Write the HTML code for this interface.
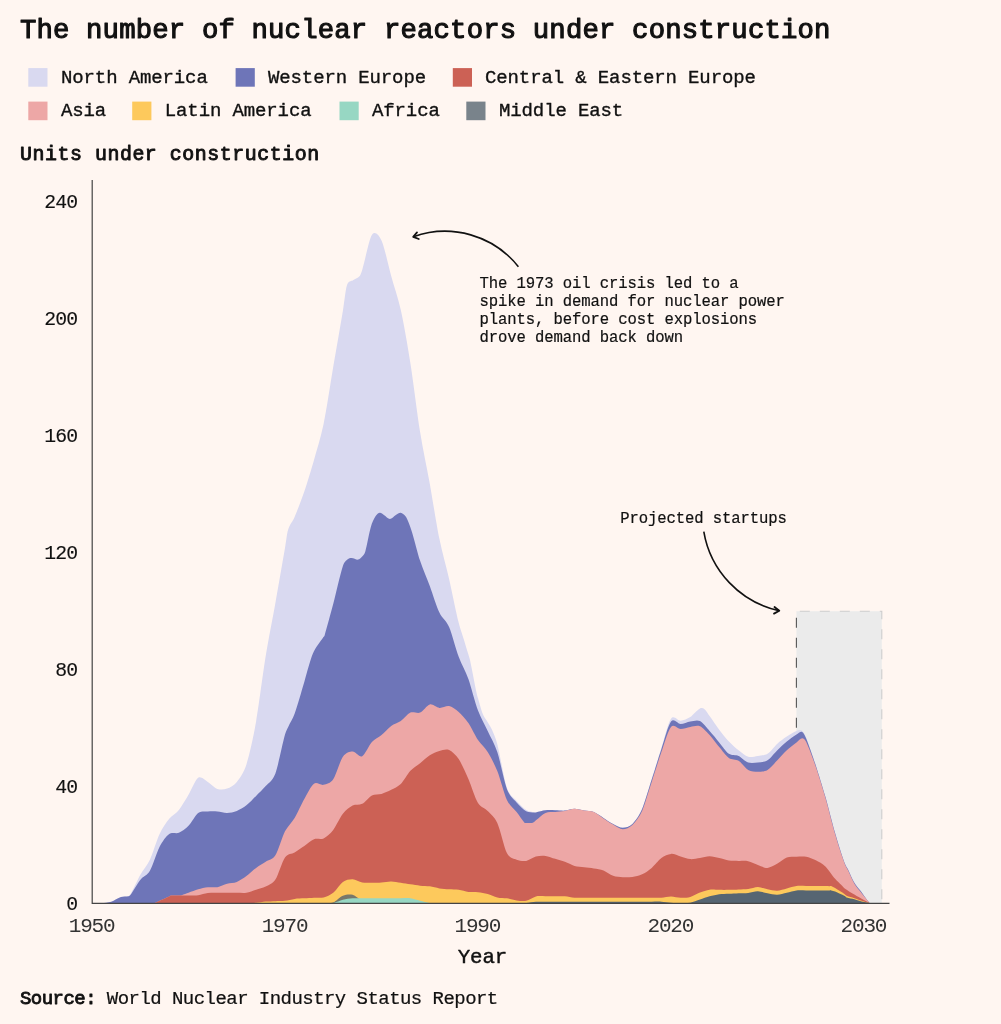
<!DOCTYPE html>
<html><head><meta charset="utf-8"><title>The number of nuclear reactors under construction</title>
<style>
html,body{margin:0;padding:0;background:#fff6f1;}
svg{display:block}
text{font-family:"Liberation Mono",monospace;fill:#111;stroke:#111;stroke-width:0.35px;stroke-linejoin:round}
.ti{font-size:27.3px;letter-spacing:0.165px;stroke-width:1.1px}
.lg{font-size:19px;letter-spacing:-0.12px}
.su{font-size:19.9px;letter-spacing:0.55px;stroke-width:0.9px}
.ax{font-size:19.8px;letter-spacing:-0.85px;stroke-width:0.12px}
.xx{font-size:21px;letter-spacing:-1.2px;stroke:none;fill:#333}
.an{font-size:15.6px;letter-spacing:-0.11px;stroke-width:0.2px}
.so{font-size:19px;letter-spacing:-0.545px;stroke-width:0.22px}
</style></head><body>
<svg width="1001" height="1024" viewBox="0 0 1001 1024">
<rect width="1001" height="1024" fill="#fff6f1"/>
<text x="19.9" y="38.4" class="ti">The number of nuclear reactors under construction</text>
<rect x="28.3" y="68.1" width="19.2" height="18.6" fill="#d9d9f0"/><text x="61" y="83.0" class="lg">North America</text>
<rect x="235.6" y="68.1" width="19.2" height="18.6" fill="#6e75b8"/><text x="268" y="83.0" class="lg">Western Europe</text>
<rect x="452.8" y="68.1" width="19.2" height="18.6" fill="#cc6155"/><text x="485" y="83.0" class="lg">Central &amp; Eastern Europe</text>
<rect x="28.3" y="101.6" width="19.2" height="18.6" fill="#eda7a6"/><text x="61" y="115.8" class="lg">Asia</text>
<rect x="132.2" y="101.6" width="19.2" height="18.6" fill="#fdc95c"/><text x="164.8" y="115.8" class="lg">Latin America</text>
<rect x="339.5" y="101.6" width="19.2" height="18.6" fill="#97d7c3"/><text x="372" y="115.8" class="lg">Africa</text>
<rect x="466.3" y="101.6" width="19.2" height="18.6" fill="#79838b"/><text x="499" y="115.8" class="lg">Middle East</text>

<text x="20" y="159.9" class="su">Units under construction</text>
<!-- projected box -->
<rect x="796.4" y="611.2" width="85.4" height="292.3" fill="#ebebeb"/>
<path d="M796.4,611.2H881.8V903" fill="none" stroke="#cdcdcd" stroke-width="1.1" stroke-dasharray="10,10" stroke-dashoffset="16.6"/>
<path d="M796.4,727.8V611.2" fill="none" stroke="#555" stroke-width="1.1" stroke-dasharray="10,10"/>
<!-- areas -->
<path d="M92.0,903.0C94.9,903.0 98.8,903.2 101.7,903.0C104.5,902.8 108.4,902.6 111.3,901.7C114.2,900.8 118.1,898.1 121.0,897.1C123.3,896.4 126.4,896.9 128.7,896.1C129.2,895.9 130.0,895.0 130.6,893.9C133.5,888.6 137.4,880.1 140.2,874.9C143.1,869.8 147.0,865.9 149.9,859.7C152.8,853.6 156.7,840.1 159.6,834.0C162.4,827.8 166.3,822.4 169.2,818.8C172.1,815.2 176.0,813.6 178.9,810.0C181.7,806.4 185.6,799.6 188.5,794.8C191.4,789.9 195.3,779.7 198.2,777.8C201.0,775.9 204.9,780.2 207.8,781.9C210.7,783.6 214.6,787.9 217.4,788.9C220.3,789.9 224.2,789.7 227.1,788.6C230.0,787.6 233.9,785.5 236.8,781.9C239.6,778.3 243.5,773.4 246.4,764.4C249.3,755.3 253.2,737.9 256.1,721.6C258.9,705.4 262.8,673.9 265.7,656.1C268.6,638.3 272.5,619.1 275.4,602.9C278.2,586.7 282.1,564.6 285.0,547.9C285.9,542.9 287.0,533.1 287.9,530.4C289.9,523.8 292.6,521.7 294.6,516.9C297.5,510.0 301.4,500.0 304.3,491.5C307.2,482.9 311.1,470.0 314.0,459.9C316.8,449.7 320.7,437.8 323.6,423.9C326.5,410.0 330.4,384.1 333.2,367.1C336.1,350.2 340.0,328.1 342.9,310.7C344.1,303.7 345.6,289.4 346.8,285.8C348.5,280.4 350.8,281.9 352.6,280.6C354.7,278.9 357.6,278.2 359.8,275.9C360.5,275.1 361.5,272.5 362.2,270.0C365.1,260.2 369.0,239.4 371.9,234.9C374.7,230.5 378.6,234.3 381.5,240.5C384.4,246.6 388.3,265.4 391.2,275.9C394.0,286.3 397.9,297.0 400.8,310.1C403.7,323.2 407.6,345.0 410.4,363.3C413.3,381.6 417.2,414.0 420.1,432.1C423.0,450.2 426.9,467.8 429.8,483.8C432.6,499.9 436.5,524.6 439.4,538.8C442.3,553.1 446.2,566.3 449.1,578.9C451.9,591.5 455.8,611.0 458.7,622.8C460.3,629.3 462.4,634.8 464.0,640.0C465.3,644.3 467.0,650.0 468.4,654.4C468.8,656.0 469.5,657.6 470.0,659.9C472.1,669.8 474.9,684.9 477.0,695.0C477.3,696.4 477.7,697.3 478.0,698.2C479.4,703.0 481.4,710.4 482.8,714.0C484.3,717.6 486.2,719.7 487.7,722.2C489.0,724.5 490.7,726.9 492.0,729.8C493.6,733.5 495.7,738.0 497.3,744.2C500.2,755.4 504.1,779.2 506.9,787.8C509.8,796.3 513.7,797.6 516.6,800.9C519.5,804.3 523.4,808.1 526.2,810.0C528.8,811.6 532.2,811.9 534.7,812.5C535.1,812.6 535.6,812.4 535.9,812.3C538.8,811.7 542.7,810.6 545.5,810.3C548.4,810.0 552.3,810.2 555.2,810.3C558.1,810.3 562.0,810.8 564.9,810.6C567.7,810.4 571.6,808.8 574.5,808.8C577.4,808.8 581.3,810.1 584.2,810.6C587.0,811.1 590.9,810.9 593.8,812.0C596.7,813.1 600.6,816.1 603.5,817.9C606.3,819.7 610.2,822.5 613.1,824.0C616.0,825.5 619.9,827.8 622.8,827.8C625.6,827.8 629.5,826.9 632.4,824.0C635.3,821.2 639.2,815.6 642.1,808.8C644.9,802.1 648.8,788.1 651.7,779.0C654.6,769.9 658.5,757.0 661.4,748.0C664.2,738.9 668.1,722.8 671.0,718.7C673.9,714.6 677.8,721.0 680.6,720.8C683.5,720.5 687.4,718.8 690.3,717.0C693.2,715.1 697.1,710.0 700.0,708.5C701.4,707.7 703.3,708.2 704.8,709.4C706.2,710.5 708.2,714.0 709.6,716.1C712.5,720.2 716.4,726.0 719.2,729.8C722.1,733.7 726.0,738.5 728.9,741.5C731.8,744.6 735.7,748.0 738.6,750.3C741.4,752.6 745.3,755.9 748.2,756.8C751.1,757.6 755.0,756.3 757.9,755.9C760.7,755.4 764.6,755.6 767.5,753.8C770.4,752.0 774.3,746.5 777.1,743.9C780.0,741.3 783.9,738.5 786.8,736.6C789.7,734.6 793.6,732.1 796.5,731.0C798.2,730.4 800.5,729.5 802.2,730.7C803.4,731.5 804.9,734.8 806.1,737.7C809.0,745.1 812.9,756.4 815.8,765.2C818.6,774.1 822.5,786.4 825.4,796.5C828.3,806.7 832.2,822.8 835.1,832.8C837.9,842.8 841.8,854.8 844.7,862.9C845.7,865.7 847.0,867.1 848.0,869.1C849.9,873.0 852.4,879.2 854.4,882.5C856.0,885.4 858.3,887.6 859.9,889.8C861.2,891.5 862.8,893.9 864.0,895.5C865.6,897.8 867.9,900.8 869.5,903.0L869.5,903.5L92.0,903.5Z" fill="#d9d9f0"/>
<path d="M92.0,903.0C94.9,903.0 98.8,903.2 101.7,903.0C104.5,902.8 108.4,902.6 111.3,901.7C114.2,900.8 118.1,898.1 121.0,897.1C123.3,896.4 126.4,896.8 128.7,896.3C129.2,896.1 130.0,895.6 130.6,894.8C133.5,890.7 137.4,883.5 140.2,879.9C143.1,876.3 147.0,875.8 149.9,870.8C152.8,865.9 156.7,852.4 159.6,846.8C162.4,841.3 166.3,836.1 169.2,834.0C172.1,831.9 176.0,834.0 178.9,832.8C181.7,831.6 185.6,828.8 188.5,825.8C191.4,822.8 195.3,815.1 198.2,812.9C201.0,810.8 204.9,811.7 207.8,811.4C210.7,811.2 214.6,811.2 217.4,811.4C220.3,811.7 224.2,813.0 227.1,812.9C230.0,812.8 233.9,812.0 236.8,810.9C239.6,809.7 243.5,807.5 246.4,805.3C249.3,803.1 253.2,798.8 256.1,795.9C258.9,793.0 262.8,789.4 265.7,786.0C268.6,782.6 272.5,781.1 275.4,773.4C278.2,765.7 282.1,745.0 285.0,734.5C286.0,731.1 287.2,729.0 288.2,726.9C290.1,722.7 292.7,719.2 294.6,713.8C297.5,705.7 301.4,691.4 304.3,681.9C306.8,673.5 310.2,660.0 312.7,654.1C316.0,646.4 320.3,642.0 323.6,636.8C323.9,636.4 324.3,636.3 324.6,635.4C327.2,626.5 330.6,613.9 333.2,604.1C336.1,593.1 340.0,575.0 342.9,566.0C344.3,561.6 346.3,560.7 347.7,559.3C348.9,558.2 350.4,557.8 351.6,557.9C353.6,557.9 356.2,559.9 358.1,559.6C359.4,559.4 361.0,557.8 362.2,556.4C363.1,555.3 364.4,554.6 365.3,551.4C366.9,545.9 369.1,533.0 370.7,527.4C372.1,522.5 374.1,518.6 375.5,516.3C376.8,514.3 378.5,513.0 379.8,512.8C381.0,512.6 382.7,514.1 383.9,514.9C385.7,515.9 388.1,518.9 389.9,518.9C391.7,518.9 394.1,515.9 395.9,514.9C397.4,514.0 399.3,512.6 400.8,512.8C402.2,513.0 404.1,514.6 405.5,516.3C406.4,517.4 407.6,520.0 408.5,522.2C409.6,524.8 411.0,528.8 412.1,532.4C414.5,540.4 417.7,553.5 420.1,560.8C423.0,569.6 426.9,578.2 429.8,585.9C432.6,593.7 436.5,606.4 439.4,612.5C442.3,618.7 446.2,620.3 449.1,626.9C451.9,633.5 455.8,648.9 458.7,656.7C461.6,664.5 465.5,670.9 468.4,678.9C471.2,687.0 475.1,702.7 478.0,710.5C480.9,718.3 484.8,724.8 487.7,731.0C490.5,737.2 494.4,743.4 497.3,752.1C500.2,760.8 504.1,781.4 506.9,788.9C509.8,796.5 513.7,799.0 516.6,802.4C519.5,805.7 523.4,809.5 526.2,811.2C528.8,812.6 532.2,812.3 534.7,812.6C535.1,812.7 535.6,812.5 535.9,812.5C538.8,811.8 542.7,810.6 545.5,810.3C548.4,809.9 552.3,810.2 555.2,810.3C558.1,810.3 562.0,810.8 564.9,810.6C567.7,810.4 571.6,808.8 574.5,808.8C577.4,808.8 581.3,810.1 584.2,810.6C587.0,811.1 590.9,810.9 593.8,812.0C596.7,813.1 600.6,816.1 603.5,817.9C606.3,819.7 610.2,822.5 613.1,824.0C616.0,825.5 619.9,827.8 622.8,827.8C625.6,827.8 629.5,826.8 632.4,824.0C635.3,821.2 639.2,815.8 642.1,809.1C644.9,802.4 648.8,788.6 651.7,779.6C654.6,770.6 658.5,757.9 661.4,749.1C664.2,740.4 668.1,725.3 671.0,721.5C673.9,717.7 677.8,724.0 680.6,724.0C683.5,724.0 687.4,721.9 690.3,721.5C693.2,721.1 697.1,719.6 700.0,721.1C702.8,722.5 706.7,727.8 709.6,731.0C712.5,734.2 716.4,739.0 719.2,742.4C722.1,745.8 726.0,751.8 728.9,753.8C731.8,755.8 735.7,754.6 738.6,755.9C741.4,757.2 745.3,761.5 748.2,762.5C751.1,763.4 755.0,762.8 757.9,762.5C760.7,762.1 764.6,762.1 767.5,760.3C770.4,758.5 774.3,753.3 777.1,750.5C780.0,747.7 783.9,743.9 786.8,741.5C789.7,739.1 793.6,736.3 796.5,734.5C798.2,733.4 800.5,731.2 802.2,731.9C803.4,732.3 804.9,735.4 806.1,738.3C809.0,745.5 812.9,756.8 815.8,765.5C818.6,774.3 822.5,786.7 825.4,796.8C828.3,807.0 832.2,823.1 835.1,833.1C837.9,843.1 841.8,855.1 844.7,863.2C845.7,866.0 847.0,867.4 848.0,869.4C849.9,873.2 852.4,879.5 854.4,882.8C856.0,885.7 858.3,887.9 859.9,890.1C861.2,891.8 862.8,894.0 864.0,895.7C865.6,897.9 867.9,900.8 869.5,903.0L869.5,903.5L92.0,903.5Z" fill="#6e75b8"/>
<path d="M92.0,903.0C94.9,903.0 98.8,903.0 101.7,903.0C104.5,903.0 108.4,903.0 111.3,903.0C114.2,903.0 118.1,903.0 121.0,903.0C123.8,903.0 127.7,903.0 130.6,903.0C133.5,903.0 137.4,903.0 140.2,903.0C143.1,903.0 147.0,903.0 149.9,903.0C151.3,903.0 153.3,903.3 154.7,903.0C156.2,902.7 158.1,901.5 159.6,900.8C162.4,899.5 166.3,897.7 169.2,896.4C169.8,896.1 170.6,895.7 171.1,895.6C173.4,895.4 176.5,895.6 178.9,895.5C179.7,895.5 180.9,895.5 181.7,895.2C183.8,894.6 186.5,893.5 188.5,892.8C191.4,891.7 195.3,890.1 198.2,889.3C201.0,888.4 204.9,887.5 207.8,887.2C210.7,886.9 214.6,887.7 217.4,887.2C220.3,886.7 224.2,884.5 227.1,883.7C230.0,882.9 233.9,883.1 236.8,881.9C239.6,880.8 243.5,878.2 246.4,876.1C249.3,874.0 253.2,870.0 256.1,867.9C258.9,865.8 262.8,863.6 265.7,861.8C268.6,859.9 272.5,859.9 275.4,855.3C278.2,850.8 282.1,837.0 285.0,831.3C287.9,825.7 291.8,822.8 294.6,817.9C297.5,813.0 301.4,804.0 304.3,798.9C307.2,793.7 311.1,785.8 314.0,783.7C316.8,781.6 320.7,785.5 323.6,784.8C326.5,784.2 330.4,783.5 333.2,779.3C336.1,775.1 340.0,760.9 342.9,756.8C345.8,752.6 349.7,751.6 352.6,751.5C355.4,751.4 359.3,757.6 362.2,756.2C365.1,754.8 369.0,745.3 371.9,742.1C374.7,739.0 378.6,737.5 381.5,735.1C384.4,732.7 388.3,728.1 391.2,726.0C394.0,723.9 397.9,723.1 400.8,721.1C403.7,719.0 407.6,713.9 410.4,712.6C413.3,711.3 417.2,713.8 420.1,712.6C423.0,711.4 426.9,705.1 429.8,704.4C432.6,703.7 436.5,707.6 439.4,707.9C442.3,708.2 446.2,705.5 449.1,706.1C451.9,706.8 455.8,709.5 458.7,712.0C461.6,714.5 465.5,718.9 468.4,723.1C471.2,727.3 475.1,735.7 478.0,740.1C480.9,744.4 484.8,747.4 487.7,752.1C490.5,756.7 494.4,763.9 497.3,771.1C500.2,778.3 504.1,793.9 506.9,800.0C509.8,806.2 513.7,808.3 516.6,812.0C519.0,815.1 522.1,820.0 524.5,822.7C525.0,823.3 525.7,822.9 526.2,822.9C528.2,822.9 530.9,823.3 532.9,822.7C533.8,822.5 535.0,820.9 535.9,820.2C538.8,818.0 542.7,814.1 545.5,812.9C548.4,811.7 552.3,812.3 555.2,812.0C558.1,811.7 562.0,811.3 564.9,810.9C567.7,810.4 571.6,808.9 574.5,808.8C577.4,808.8 581.3,810.1 584.2,810.6C587.0,811.1 590.9,810.8 593.8,812.0C596.7,813.2 600.6,816.6 603.5,818.5C606.3,820.4 610.2,823.0 613.1,824.6C616.0,826.2 619.9,829.2 622.8,829.3C625.6,829.3 629.5,827.7 632.4,824.9C635.3,822.1 639.2,817.3 642.1,810.9C644.9,804.4 648.8,790.7 651.7,781.9C654.6,773.1 658.5,760.3 661.4,752.1C664.2,743.8 668.1,730.4 671.0,726.9C673.9,723.4 677.8,729.0 680.6,729.0C683.5,729.0 687.4,727.3 690.3,726.9C693.2,726.5 697.1,725.1 700.0,726.3C702.8,727.6 706.7,732.0 709.6,735.1C712.5,738.2 716.4,743.7 719.2,747.1C722.1,750.5 726.0,755.9 728.9,757.9C731.8,760.0 735.7,759.0 738.6,760.8C741.4,762.6 745.3,768.3 748.2,769.9C751.1,771.5 755.0,771.7 757.9,771.7C760.7,771.7 764.6,771.6 767.5,769.9C770.4,768.2 774.3,763.5 777.1,760.6C780.0,757.6 783.9,753.0 786.8,750.3C789.7,747.6 793.6,744.7 796.5,742.4C798.2,741.1 800.5,738.4 802.2,738.3C803.4,738.3 804.9,739.4 806.1,741.8C809.0,747.9 812.9,758.3 815.8,766.7C818.6,775.1 822.5,787.6 825.4,797.7C828.3,807.8 832.2,824.1 835.1,834.0C837.9,843.9 841.8,855.7 844.7,863.8C845.7,866.6 847.0,868.2 848.0,870.2C849.9,874.2 852.4,880.4 854.4,883.7C856.0,886.6 858.3,888.8 859.9,891.0C861.2,892.6 862.8,894.7 864.0,896.3C865.6,898.3 867.9,901.0 869.5,903.0L869.5,903.5L92.0,903.5Z" fill="#eda7a6"/>
<path d="M92.0,903.0C94.9,903.0 98.8,903.0 101.7,903.0C104.5,903.0 108.4,903.0 111.3,903.0C114.2,903.0 118.1,903.0 121.0,903.0C123.8,903.0 127.7,903.0 130.6,903.0C133.5,903.0 137.4,903.0 140.2,903.0C143.1,903.0 147.0,903.0 149.9,903.0C151.3,903.0 153.3,903.3 154.7,903.0C156.2,902.7 158.1,901.5 159.6,900.8C162.4,899.5 166.3,897.7 169.2,896.4C169.8,896.1 170.6,895.7 171.1,895.6C173.4,895.4 176.5,895.6 178.9,895.5C181.7,895.5 185.6,895.4 188.5,895.4C191.4,895.3 195.3,895.6 198.2,895.2C201.0,894.9 204.9,893.4 207.8,893.1C210.7,892.7 214.6,892.8 217.4,892.8C220.3,892.7 224.2,892.8 227.1,892.8C230.0,892.8 233.9,892.8 236.8,892.8C239.6,892.8 243.5,893.2 246.4,892.8C249.3,892.3 253.2,890.8 256.1,889.8C258.9,888.9 262.8,888.2 265.7,886.6C268.6,885.1 272.5,884.0 275.4,879.6C278.2,875.2 282.1,861.5 285.0,857.4C287.9,853.3 291.8,854.1 294.6,852.4C297.5,850.7 301.4,847.9 304.3,846.0C307.2,844.0 311.1,840.4 314.0,839.2C316.8,838.1 320.7,839.8 323.6,838.4C326.5,837.0 330.4,833.6 333.2,829.9C336.1,826.2 340.0,817.4 342.9,813.8C345.8,810.1 349.7,807.1 352.6,805.6C355.4,804.1 359.3,805.4 362.2,803.8C365.1,802.3 369.0,796.9 371.9,795.4C374.7,793.9 378.6,794.7 381.5,793.9C384.4,793.1 388.3,791.3 391.2,789.8C394.0,788.3 397.9,786.8 400.8,784.0C403.7,781.1 407.6,773.9 410.4,770.8C413.3,767.7 417.2,765.5 420.1,763.2C423.0,760.9 426.9,757.1 429.8,755.3C432.6,753.4 436.5,751.7 439.4,750.9C442.3,750.1 446.2,748.8 449.1,750.0C451.9,751.3 455.8,754.7 458.7,759.1C461.6,763.4 465.5,772.4 468.4,779.0C471.2,785.6 475.1,798.2 478.0,803.0C480.9,807.7 484.8,807.9 487.7,810.9C490.5,813.8 494.4,816.5 497.3,822.9C500.2,829.2 504.1,847.5 506.9,853.0C509.8,858.5 513.7,858.5 516.6,859.7C519.5,860.9 523.4,861.4 526.2,860.9C529.1,860.4 533.0,857.2 535.9,856.5C538.8,855.7 542.7,855.6 545.5,855.9C548.4,856.3 552.3,858.0 555.2,858.8C558.1,859.7 562.0,860.7 564.9,861.8C567.7,862.8 571.6,865.0 574.5,865.9C577.4,866.7 581.3,866.9 584.2,867.3C587.0,867.7 590.9,868.0 593.8,868.5C596.7,869.0 600.6,869.4 603.5,870.5C606.3,871.6 610.2,874.8 613.1,875.8C616.0,876.8 619.9,877.1 622.8,877.3C625.6,877.4 629.5,877.4 632.4,877.0C635.3,876.5 639.2,875.7 642.1,874.3C644.9,873.0 648.8,870.4 651.7,867.9C654.6,865.4 658.5,860.1 661.4,858.0C664.2,855.8 668.1,854.1 671.0,853.9C673.9,853.6 677.8,855.7 680.6,856.5C683.5,857.3 687.4,858.9 690.3,859.1C693.2,859.3 697.1,858.4 700.0,858.0C702.8,857.5 706.7,856.2 709.6,856.2C712.5,856.2 716.4,857.3 719.2,858.0C722.1,858.6 726.0,860.1 728.9,860.6C731.8,861.0 735.7,860.8 738.6,860.9C741.4,861.0 745.3,860.6 748.2,861.2C751.1,861.8 755.0,864.0 757.9,865.0C760.7,866.0 764.6,868.1 767.5,867.9C770.4,867.7 774.3,865.4 777.1,863.8C780.0,862.2 783.9,858.4 786.8,857.4C789.7,856.3 793.6,856.9 796.5,856.8C799.3,856.7 803.2,856.3 806.1,856.8C809.0,857.3 812.9,858.8 815.8,860.3C818.6,861.7 822.5,863.7 825.4,866.4C828.3,869.2 832.2,875.4 835.1,878.7C837.0,881.0 839.6,883.2 841.6,885.2C842.5,886.1 843.8,887.7 844.7,888.4C847.6,890.5 851.5,892.8 854.4,894.5C857.2,896.3 861.1,898.5 864.0,900.1C865.6,901.0 867.9,902.1 869.5,903.0L869.5,903.5L92.0,903.5Z" fill="#cc6155"/>
<path d="M92.0,903.0C94.9,903.0 98.8,903.0 101.7,903.0C104.5,903.0 108.4,903.0 111.3,903.0C114.2,903.0 118.1,903.0 121.0,903.0C123.8,903.0 127.7,903.0 130.6,903.0C133.5,903.0 137.4,903.0 140.2,903.0C143.1,903.0 147.0,903.0 149.9,903.0C152.8,903.0 156.7,903.0 159.6,903.0C162.4,903.0 166.3,903.0 169.2,903.0C172.1,903.0 176.0,903.0 178.9,903.0C181.7,903.0 185.6,903.0 188.5,903.0C191.4,903.0 195.3,903.0 198.2,903.0C201.0,903.0 204.9,903.0 207.8,903.0C210.7,903.0 214.6,903.0 217.4,903.0C220.3,903.0 224.2,903.0 227.1,903.0C230.0,903.0 233.9,903.0 236.8,903.0C239.6,903.0 243.5,903.0 246.4,903.0C249.3,903.0 253.2,902.9 256.1,902.7C258.9,902.5 262.8,901.8 265.7,901.5C268.6,901.3 272.5,901.4 275.4,901.2C278.2,901.1 282.1,901.2 285.0,900.8C287.9,900.5 291.8,899.3 294.6,898.9C297.5,898.5 301.4,898.5 304.3,898.3C307.2,898.1 311.1,897.9 314.0,897.7C316.8,897.6 320.7,898.2 323.6,897.4C326.5,896.7 330.4,895.1 333.2,892.8C336.1,890.4 340.0,884.0 342.9,881.9C345.8,879.9 349.7,879.2 352.6,879.3C355.4,879.4 359.3,882.0 362.2,882.5C365.1,883.1 369.0,882.8 371.9,882.8C374.7,882.8 378.6,882.7 381.5,882.5C384.4,882.3 388.3,881.3 391.2,881.4C394.0,881.4 397.9,882.4 400.8,882.8C403.7,883.3 407.6,883.8 410.4,884.3C413.3,884.7 417.2,885.4 420.1,885.7C423.0,886.0 426.9,885.9 429.8,886.3C432.6,886.7 436.5,887.9 439.4,888.4C442.3,888.8 446.2,889.0 449.1,889.3C451.9,889.5 455.8,889.4 458.7,889.8C461.6,890.2 465.5,891.5 468.4,891.9C471.2,892.2 475.1,891.9 478.0,892.2C480.9,892.5 484.8,893.1 487.7,893.9C490.5,894.7 494.4,896.8 497.3,897.4C500.2,898.1 504.1,897.9 506.9,898.3C509.8,898.8 513.7,900.0 516.6,900.4C519.5,900.7 523.4,901.4 526.2,900.8C529.1,900.2 533.0,897.1 535.9,896.4C538.8,895.7 542.7,896.3 545.5,896.3C548.4,896.3 552.3,896.3 555.2,896.3C558.1,896.3 562.0,896.1 564.9,896.3C567.7,896.5 571.6,897.5 574.5,897.7C577.4,898.0 581.3,897.7 584.2,897.7C587.0,897.7 590.9,897.7 593.8,897.7C596.7,897.7 600.6,897.7 603.5,897.7C606.3,897.7 610.2,897.7 613.1,897.7C616.0,897.7 619.9,897.7 622.8,897.7C625.6,897.7 629.5,897.7 632.4,897.7C635.3,897.7 639.2,897.7 642.1,897.7C644.9,897.7 648.8,897.7 651.7,897.7C654.6,897.7 658.5,897.9 661.4,897.7C664.2,897.5 668.1,896.4 671.0,896.4C673.9,896.4 677.8,897.7 680.6,897.7C683.5,897.8 687.4,897.6 690.3,896.9C693.2,896.1 697.1,893.7 700.0,892.6C702.8,891.5 706.7,890.1 709.6,889.7C712.5,889.3 716.4,889.8 719.2,889.8C722.1,889.9 726.0,889.9 728.9,889.8C731.8,889.8 735.7,889.7 738.6,889.5C741.4,889.4 745.3,889.4 748.2,889.0C751.1,888.6 755.0,886.9 757.9,886.9C760.7,887.0 764.6,888.7 767.5,889.3C770.4,889.8 774.3,890.8 777.1,890.7C780.0,890.6 783.9,889.1 786.8,888.4C789.7,887.7 793.6,886.4 796.5,886.0C799.3,885.7 803.2,886.0 806.1,886.0C809.0,886.0 812.9,886.0 815.8,886.0C818.6,886.0 822.5,886.0 825.4,886.0C826.7,886.0 828.4,886.2 829.6,886.2C830.1,886.2 830.7,885.9 831.2,886.0C832.3,886.4 833.9,887.4 835.1,888.1C837.9,889.8 841.8,892.3 844.7,894.2C845.3,894.6 846.1,895.6 846.6,895.8C848.9,896.8 852.0,897.4 854.4,898.2C857.2,899.1 861.1,900.6 864.0,901.5C865.6,902.1 867.9,902.6 869.5,903.0L869.5,903.5L92.0,903.5Z" fill="#fdc95c"/>
<path d="M92.0,903.0C94.9,903.0 98.8,903.0 101.7,903.0C104.5,903.0 108.4,903.0 111.3,903.0C114.2,903.0 118.1,903.0 121.0,903.0C123.8,903.0 127.7,903.0 130.6,903.0C133.5,903.0 137.4,903.0 140.2,903.0C143.1,903.0 147.0,903.0 149.9,903.0C152.8,903.0 156.7,903.0 159.6,903.0C162.4,903.0 166.3,903.0 169.2,903.0C172.1,903.0 176.0,903.0 178.9,903.0C181.7,903.0 185.6,903.0 188.5,903.0C191.4,903.0 195.3,903.0 198.2,903.0C201.0,903.0 204.9,903.0 207.8,903.0C210.7,903.0 214.6,903.0 217.4,903.0C220.3,903.0 224.2,903.0 227.1,903.0C230.0,903.0 233.9,903.0 236.8,903.0C239.6,903.0 243.5,903.0 246.4,903.0C249.3,903.0 253.2,903.0 256.1,903.0C258.9,903.0 262.8,903.0 265.7,903.0C268.6,903.0 272.5,903.0 275.4,903.0C278.2,903.0 282.1,903.0 285.0,903.0C287.9,903.0 291.8,903.0 294.6,903.0C297.5,903.0 301.4,903.0 304.3,903.0C307.2,903.0 311.1,903.0 314.0,903.0C316.8,903.0 320.7,903.1 323.6,903.0C326.5,902.9 330.4,903.5 333.2,902.4C336.1,901.3 340.0,896.8 342.9,895.7C345.8,894.5 349.7,894.1 352.6,894.8C355.4,895.6 359.3,899.4 362.2,900.7C365.1,901.9 369.0,902.6 371.9,903.0C374.7,903.4 378.6,903.0 381.5,903.0C384.4,903.0 388.3,903.0 391.2,903.0C394.0,903.0 397.9,903.0 400.8,903.0C403.7,903.0 407.6,903.0 410.4,903.0C413.3,903.0 417.2,903.0 420.1,903.0C423.0,903.0 426.9,903.0 429.8,903.0C432.6,903.0 436.5,903.0 439.4,903.0C442.3,903.0 446.2,903.0 449.1,903.0C451.9,903.0 455.8,903.0 458.7,903.0C461.6,903.0 465.5,903.0 468.4,903.0C471.2,903.0 475.1,903.0 478.0,903.0L478.0,903.5L92.0,903.5Z" fill="#77786b"/>
<path d="M478.0,903.0C480.9,903.0 484.8,903.0 487.7,903.0C490.5,903.0 494.4,903.0 497.3,903.0C500.2,903.0 504.1,903.0 506.9,903.0C509.8,903.0 513.7,903.0 516.6,903.0C519.5,903.0 523.4,903.2 526.2,903.0C529.1,902.8 533.0,902.0 535.9,901.8C538.8,901.6 542.7,901.7 545.5,901.7C548.4,901.7 552.3,901.7 555.2,901.7C558.1,901.7 562.0,901.7 564.9,901.7C567.7,901.7 571.6,901.7 574.5,901.7C577.4,901.7 581.3,901.7 584.2,901.7C587.0,901.7 590.9,901.7 593.8,901.7C596.7,901.7 600.6,901.7 603.5,901.7C606.3,901.7 610.2,901.7 613.1,901.7C616.0,901.7 619.9,901.7 622.8,901.7C625.6,901.7 629.5,901.7 632.4,901.7C635.3,901.7 639.2,901.7 642.1,901.7C644.9,901.7 648.8,901.7 651.7,901.7C654.6,901.7 658.5,901.5 661.4,901.7C664.2,901.8 668.1,902.5 671.0,902.7C673.9,902.9 677.8,903.0 680.6,903.0C683.5,903.0 687.4,903.2 690.3,902.7C693.2,902.2 697.1,900.6 700.0,899.6C702.8,898.7 706.7,897.1 709.6,896.3C712.5,895.5 716.4,894.6 719.2,894.2C722.1,893.9 726.0,893.9 728.9,893.8C731.8,893.7 735.7,893.5 738.6,893.3C741.4,893.2 745.3,893.2 748.2,892.9C751.1,892.6 755.0,891.2 757.9,891.3C760.7,891.4 764.6,892.8 767.5,893.3C770.4,893.9 774.3,894.8 777.1,894.7C780.0,894.6 783.9,893.4 786.8,892.8C789.7,892.1 793.6,890.8 796.5,890.4C799.3,890.1 803.2,890.4 806.1,890.4C809.0,890.4 812.9,890.4 815.8,890.4C818.6,890.4 822.5,890.4 825.4,890.4C826.7,890.4 828.4,890.4 829.6,890.4C830.1,890.4 830.7,890.3 831.2,890.4C832.3,890.7 833.9,891.1 835.1,891.6C837.9,892.8 841.8,894.6 844.7,896.1C845.3,896.4 846.1,897.4 846.6,897.6C848.9,898.4 852.0,898.7 854.4,899.3C857.2,900.1 861.1,901.4 864.0,902.1C865.6,902.5 867.9,902.7 869.5,903.0L869.5,903.5L478.0,903.5Z" fill="#566572"/>
<path d="M92.0,903.0C94.9,903.0 98.8,903.0 101.7,903.0C104.5,903.0 108.4,903.0 111.3,903.0C114.2,903.0 118.1,903.0 121.0,903.0C123.8,903.0 127.7,903.0 130.6,903.0C133.5,903.0 137.4,903.0 140.2,903.0C143.1,903.0 147.0,903.0 149.9,903.0C152.8,903.0 156.7,903.0 159.6,903.0C162.4,903.0 166.3,903.0 169.2,903.0C172.1,903.0 176.0,903.0 178.9,903.0C181.7,903.0 185.6,903.0 188.5,903.0C191.4,903.0 195.3,903.0 198.2,903.0C201.0,903.0 204.9,903.0 207.8,903.0C210.7,903.0 214.6,903.0 217.4,903.0C220.3,903.0 224.2,903.0 227.1,903.0C230.0,903.0 233.9,903.0 236.8,903.0C239.6,903.0 243.5,903.0 246.4,903.0C249.3,903.0 253.2,903.0 256.1,903.0C258.9,903.0 262.8,903.0 265.7,903.0C268.6,903.0 272.5,903.0 275.4,903.0C278.2,903.0 282.1,903.0 285.0,903.0C287.9,903.0 291.8,903.0 294.6,903.0C297.5,903.0 301.4,903.0 304.3,903.0C307.2,903.0 311.1,903.0 314.0,903.0C316.8,903.0 320.7,903.0 323.6,903.0C326.5,903.0 330.4,903.5 333.2,903.0C336.1,902.5 340.0,900.5 342.9,899.8C345.8,899.1 349.7,898.5 352.6,898.3C355.4,898.1 359.3,898.3 362.2,898.3C365.1,898.3 369.0,898.3 371.9,898.3C374.7,898.3 378.6,898.3 381.5,898.3C384.4,898.3 388.3,898.3 391.2,898.3C394.0,898.3 397.9,898.3 400.8,898.3C403.7,898.3 407.6,897.9 410.4,898.3C413.3,898.7 417.2,900.1 420.1,900.8C423.0,901.5 426.9,902.7 429.8,903.0C432.6,903.3 436.5,903.0 439.4,903.0C442.3,903.0 446.2,903.0 449.1,903.0C451.9,903.0 455.8,903.0 458.7,903.0C461.6,903.0 465.5,903.0 468.4,903.0C471.2,903.0 475.1,903.0 478.0,903.0C480.9,903.0 484.8,903.0 487.7,903.0C490.5,903.0 494.4,903.0 497.3,903.0C500.2,903.0 504.1,903.0 506.9,903.0C509.8,903.0 513.7,903.0 516.6,903.0C519.5,903.0 523.4,903.0 526.2,903.0C529.1,903.0 533.0,903.0 535.9,903.0C538.8,903.0 542.7,903.0 545.5,903.0C548.4,903.0 552.3,903.0 555.2,903.0C558.1,903.0 562.0,903.0 564.9,903.0C567.7,903.0 571.6,903.0 574.5,903.0C577.4,903.0 581.3,903.0 584.2,903.0C587.0,903.0 590.9,903.0 593.8,903.0C596.7,903.0 600.6,903.0 603.5,903.0C606.3,903.0 610.2,903.0 613.1,903.0C616.0,903.0 619.9,903.0 622.8,903.0C625.6,903.0 629.5,903.0 632.4,903.0C635.3,903.0 639.2,903.0 642.1,903.0C644.9,903.0 648.8,903.0 651.7,903.0C654.6,903.0 658.5,903.0 661.4,903.0C664.2,903.0 668.1,903.0 671.0,903.0C673.9,903.0 677.8,903.0 680.6,903.0C683.5,903.0 687.4,903.0 690.3,903.0C693.2,903.0 697.1,903.0 700.0,903.0C702.8,903.0 706.7,903.0 709.6,903.0C712.5,903.0 716.4,903.0 719.2,903.0C722.1,903.0 726.0,903.0 728.9,903.0C731.8,903.0 735.7,903.0 738.6,903.0C741.4,903.0 745.3,903.0 748.2,903.0C751.1,903.0 755.0,903.0 757.9,903.0C760.7,903.0 764.6,903.0 767.5,903.0C770.4,903.0 774.3,903.0 777.1,903.0C780.0,903.0 783.9,903.0 786.8,903.0C789.7,903.0 793.6,903.0 796.5,903.0C799.3,903.0 803.2,903.0 806.1,903.0C809.0,903.0 812.9,903.0 815.8,903.0C818.6,903.0 822.5,903.0 825.4,903.0C828.3,903.0 832.2,903.0 835.1,903.0C837.9,903.0 841.8,903.0 844.7,903.0C847.6,903.0 851.5,903.0 854.4,903.0C857.2,903.0 861.1,903.0 864.0,903.0C865.6,903.0 867.9,903.0 869.5,903.0L869.5,903.5L92.0,903.5Z" fill="#97d7c3"/>

<!-- axes -->
<path d="M92.2,180V903.4H889.5" fill="none" stroke="#444" stroke-width="1.2"/>
<text x="77.4" y="909.6" class="ax" text-anchor="end">0</text>
<text x="77.4" y="792.6" class="ax" text-anchor="end">40</text>
<text x="77.4" y="675.6" class="ax" text-anchor="end">80</text>
<text x="77.4" y="558.6" class="ax" text-anchor="end">120</text>
<text x="77.4" y="441.6" class="ax" text-anchor="end">160</text>
<text x="77.4" y="324.6" class="ax" text-anchor="end">200</text>
<text x="77.4" y="207.6" class="ax" text-anchor="end">240</text>
<text x="91.6" y="932.3" class="xx" text-anchor="middle">1950</text>
<text x="284.5" y="932.3" class="xx" text-anchor="middle">1970</text>
<text x="477.3" y="932.3" class="xx" text-anchor="middle">1990</text>
<text x="670.3" y="932.3" class="xx" text-anchor="middle">2020</text>
<text x="863.4" y="932.3" class="xx" text-anchor="middle">2030</text>

<text x="482.4" y="962.5" class="ax" text-anchor="middle" style="font-size:20.8px;letter-spacing:-0.2px;stroke-width:0.45px">Year</text>
<text x="479.6" y="288.2" class="an">The 1973 oil crisis led to a</text>
<text x="479.6" y="306.1" class="an">spike in demand for nuclear power</text>
<text x="479.6" y="324.0" class="an">plants, before cost explosions</text>
<text x="479.6" y="341.9" class="an">drove demand back down</text>

<text x="620.3" y="522.6" class="an">Projected startups</text>
<path d="M518.4,266.7A94,94 0 0 0 413.4,236.7" fill="none" stroke="#111" stroke-width="1.6"/>
<path d="M417,232.4L413.2,236.8L418.8,239" fill="none" stroke="#111" stroke-width="1.8" stroke-linecap="round" stroke-linejoin="round"/>
<path d="M703.8,531.6A97.5,97.5 0 0 0 779,610.6" fill="none" stroke="#111" stroke-width="1.6"/>
<path d="M774.5,607L779.3,610.7L774,613.6" fill="none" stroke="#111" stroke-width="1.8" stroke-linecap="round" stroke-linejoin="round"/>
<text x="20" y="1004.3" class="so"><tspan stroke-width="0.85">Source:</tspan> World Nuclear Industry Status Report</text>
</svg>
</body></html>
